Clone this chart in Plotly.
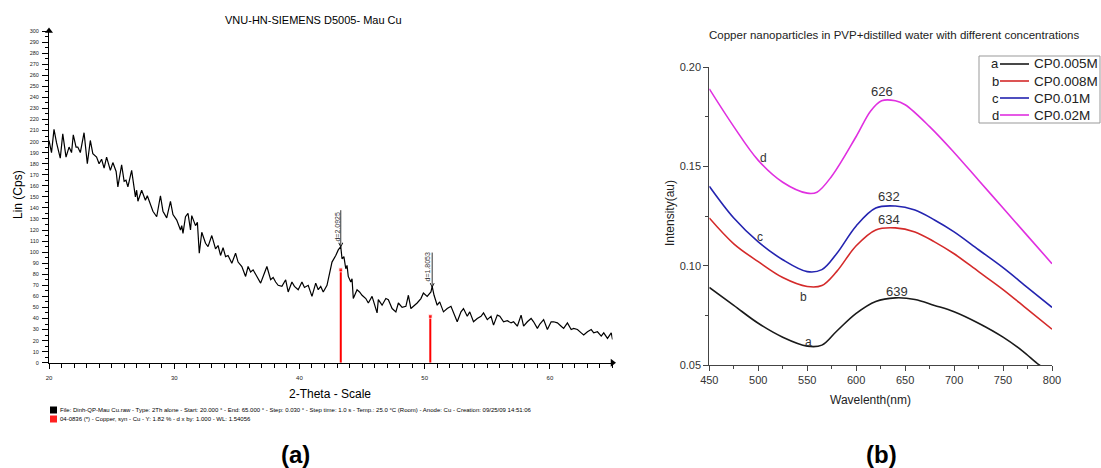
import plotly.graph_objects as go

W, H = 1101, 468
def px(x): return x / W
def py(y): return 1 - y / H

# ---------------- Panel (a): XRD data ----------------
theta = [20.0,20.2,20.4,20.6,20.9,21.1,21.36,21.6,21.8,21.94,22.16,22.3,22.5,22.8,23.06,23.3,23.5,23.8,24.0,24.2,
         24.4,24.6,24.9,25.1,25.36,25.5,25.8,26.0,26.15,26.3,26.6,26.8,26.9,27.0,27.1,27.4,27.7,27.85,28.1,28.3,
         28.6,28.9,29.1,29.4,29.7,29.9,30.2,30.5,30.6,30.7,30.9,31.1,31.3,31.4,31.7,31.85,32.0,32.2,32.5,32.7,
         33.0,33.3,33.5,33.7,33.9,34.1,34.3,34.6,34.9,35.1,35.4,35.7,35.9,36.1,36.3,36.6,36.9,37.1,37.4,37.7,
         37.9,38.1,38.3,38.6,38.9,39.1,39.4,39.6,39.9,40.2,40.4,40.7,41.0,41.3,41.5,41.7,41.9,42.2,42.3,42.6,
         42.9,43.1,43.3,43.4,43.55,43.7,43.8,43.9,44.1,44.2,44.3,44.6,44.8,45.0,45.3,45.5,45.8,46.2,46.3,46.6,
         46.9,47.1,47.4,47.7,47.9,48.2,48.5,48.7,48.9,49.1,49.4,49.7,49.9,50.2,50.5,50.6,50.75,51.0,51.2,51.5,
         51.8,52.1,52.3,52.6,52.9,53.1,53.4,53.6,53.9,54.2,54.5,54.7,55.0,55.3,55.5,55.8,56.0,56.3,56.6,56.9,
         57.1,57.4,57.7,57.9,58.2,58.5,58.7,59.0,59.2,59.5,59.8,60.1,60.3,60.6,60.9,61.1,61.4,61.7,61.9,62.2,
         62.5,62.7,63.0,63.3,63.5,63.8,64.1,64.3,64.6,64.9,65.0]
cps = [201,190,211,199,185,207,186,195,190,206,195,195,190,208,180,201,189,186,180,184,
       176,186,174,181,173,159,179,164,165,159,174,156,150,156,146,156,147,151,143,137,
       132,151,137,131,146,134,129,120,124,117,132,135,120,133,124,127,99,118,108,105,
       115,103,106,97,104,96,97,90,99,91,87,78,87,82,84,78,72,78,87,75,
       77,73,70,69,75,64,73,69,66,73,68,70,60,72,66,69,64,70,75,91,
       97,102,105,94,96,85,88,78,73,76,58,66,64,61,58,54,60,45,57,52,
       58,57,49,46,54,50,51,61,49,51,54,58,63,60,64,69,61,52,55,46,
       49,51,45,37,46,49,42,46,37,40,42,45,39,42,34,43,42,37,38,36,
       37,33,43,33,37,40,37,31,35,39,30,37,37,36,33,31,36,30,31,30,
       27,25,28,30,27,28,24,27,22,27,21]

stick_theta = [43.3, 50.45]
stick_height = [84, 42]

peak_theta = [43.3, 50.6]
peak_cps = [104, 67.5]
peak_labels = ["d=2.0925", "d=1.8053"]

# ---------------- Panel (b): UV-Vis data ----------------
wl_a = [450,475,500,525,550,565,580,600,620,640,660,680,700,725,750,770,787,800]
int_a = [0.089,0.080,0.071,0.064,0.0595,0.060,0.067,0.076,0.082,0.0838,0.083,0.080,0.0768,0.071,0.064,0.057,0.050,0.046]
wl_b = [450,475,500,525,550,565,580,600,620,640,660,680,700,725,750,775,800]
int_b = [0.124,0.111,0.102,0.094,0.0895,0.090,0.097,0.110,0.118,0.119,0.117,0.112,0.106,0.097,0.088,0.078,0.068]
wl_c = [450,475,500,525,550,565,580,600,620,640,660,680,700,725,750,775,800]
int_c = [0.140,0.124,0.112,0.103,0.097,0.098,0.106,0.120,0.129,0.130,0.128,0.123,0.117,0.108,0.099,0.089,0.079]
wl_d = [450,475,500,525,550,560,575,600,615,626,640,650,675,700,725,750,775,800]
int_d = [0.189,0.170,0.153,0.142,0.1365,0.137,0.145,0.165,0.178,0.183,0.183,0.181,0.170,0.157,0.143,0.129,0.115,0.101]

series_names = ["CP0.005M", "CP0.008M", "CP0.01M", "CP0.02M"]
series_letters = ["a", "b", "c", "d"]
series_colors = ["#1a1a1a", "#d42a2a", "#2424b0", "#e030e0"]

fig = go.Figure()

# XRD pattern
fig.add_trace(go.Scatter(x=theta, y=cps, mode="lines", line=dict(color="black", width=1.2),
                         xaxis="x", yaxis="y", showlegend=False))
for t, h in zip(stick_theta, stick_height):
    fig.add_trace(go.Scatter(x=[t, t], y=[0, h], mode="lines+markers",
                             line=dict(color="#ff0000", width=2),
                             marker=dict(size=[0, 4], color="#ff0000", symbol="square"),
                             xaxis="x", yaxis="y", showlegend=False, cliponaxis=False))
# axis arrowheads
fig.add_trace(go.Scatter(x=[20], y=[300], mode="markers", marker=dict(symbol="triangle-up", size=7, color="black"),
                         xaxis="x", yaxis="y", showlegend=False, cliponaxis=False))
fig.add_trace(go.Scatter(x=[65], y=[0], mode="markers", marker=dict(symbol="triangle-right", size=7, color="black"),
                         xaxis="x", yaxis="y", showlegend=False, cliponaxis=False))

# UV-Vis spectra
for wl, iv, nm, col in zip([wl_a, wl_b, wl_c, wl_d], [int_a, int_b, int_c, int_d], series_names, series_colors):
    fig.add_trace(go.Scatter(x=wl, y=iv, mode="lines", line=dict(color=col, width=1.6, shape="spline", smoothing=1.0),
                             name=nm, xaxis="x2", yaxis="y2", showlegend=False))

F = "Arial, Liberation Sans, sans-serif"
ann = []
# d-spacing arrows and texts
for t, c, lab, ay, tx, ty in zip(peak_theta, peak_cps, peak_labels, [-39, -37], [43.04, 50.22], [122.7, 86.5]):
    ann.append(dict(x=t, y=c, xref="x", yref="y", ax=0, ay=ay, text="", showarrow=True,
                    arrowhead=5, arrowsize=1, arrowwidth=0.8, arrowcolor="black"))
    ann.append(dict(x=tx, y=ty, xref="x", yref="y", text=lab, textangle=-90, showarrow=False,
                    font=dict(size=7, color="#333", family=F)))

def txt(x, y, s, size, color="black", angle=0, xanchor="center", bold=False):
    if bold:
        s = "<b>" + s + "</b>"
    ann.append(dict(x=px(x), y=py(y), xref="paper", yref="paper", text=s, showarrow=False,
                    textangle=angle, xanchor=xanchor, yanchor="middle",
                    font=dict(size=size, color=color, family=F)))

# Panel (a) texts
txt(313, 20, "VNU-HN-SIEMENS D5005- Mau Cu", 11)
txt(18, 195, "Lin (Cps)", 12, angle=-90)
txt(330, 394, "2-Theta - Scale", 12)
txt(58, 410, "File: Dinh-QP-Mau Cu.raw - Type: 2Th alone - Start: 20.000 ° - End: 65.000 ° - Step: 0.030 ° - Step time: 1.0 s - Temp.: 25.0 °C (Room) - Anode: Cu - Creation: 09/25/09 14:51:06",
    6, xanchor="left")
txt(58, 419, "04-0836 (*) - Copper, syn - Cu - Y: 1.82 % - d x by: 1.000 - WL: 1.54056", 6, xanchor="left")
txt(295, 454, "(a)", 24, bold=True)

# Panel (b) texts
txt(894, 35, "Copper nanoparticles in PVP+distilled water with different concentrations", 11.5, color="#222")
txt(670, 213, "Intensity(au)", 12, color="#222", angle=-90)
txt(870, 400, "Wavelenth(nm)", 12, color="#222")
txt(881, 454, "(b)", 24, bold=True)
for s, x, y in zip(["626", "632", "634", "639"], [882, 889, 889, 897], [92, 196, 219, 291]):
    txt(x, y, s, 13, color="#333")
for s, x, y in zip(["d", "c", "b", "a"], [763, 760, 803, 808], [158, 237, 297, 342]):
    txt(x, y, s, 12, color="#333")

shapes = []
# footer icons
shapes.append(dict(type="rect", xref="paper", yref="paper", x0=px(50), x1=px(57), y0=py(413.5), y1=py(406.5),
                   fillcolor="black", line=dict(width=0)))
shapes.append(dict(type="rect", xref="paper", yref="paper", x0=px(50), x1=px(57), y0=py(422.5), y1=py(415.5),
                   fillcolor="#ff2020", line=dict(width=0)))
# legend box for panel (b)
shapes.append(dict(type="rect", xref="paper", yref="paper", x0=px(979), x1=px(1100), y0=py(123), y1=py(56),
                   fillcolor="white", line=dict(color="#999", width=1)))
for i, (nm, let, col) in enumerate(zip(series_names, series_letters, series_colors)):
    yy = 64 + i * 17
    shapes.append(dict(type="line", xref="paper", yref="paper", x0=px(1000), x1=px(1029), y0=py(yy), y1=py(yy),
                       line=dict(color=col, width=1.6)))
    txt(995, yy, let, 13, color="#222")
    txt(1032, yy, nm, 13.5, color="#222", xanchor="left")

fig.update_layout(
    width=W, height=H, autosize=False,
    margin=dict(l=0, r=0, t=0, b=0, autoexpand=False),
    paper_bgcolor="white", plot_bgcolor="white",
    showlegend=False,
    xaxis=dict(domain=[px(49), px(612.5)], range=[20, 65], anchor="y",
               showline=True, linecolor="black", linewidth=1, showgrid=False, zeroline=False,
               ticks="outside", ticklen=5, tickcolor="black", tick0=20, dtick=10,
               ticklabelstandoff=4,
               tickfont=dict(size=6, family=F, color="#222"),
               minor=dict(ticks="outside", ticklen=4, dtick=1, tickcolor="black", showgrid=False)),
    yaxis=dict(domain=[py(362.7), py(31)], range=[0, 300], anchor="x",
               showline=True, linecolor="black", linewidth=1, showgrid=False, zeroline=False,
               ticks="outside", ticklen=6, tickcolor="black", tick0=0, dtick=10,
               ticklabelstandoff=2,
               tickfont=dict(size=5.5, family=F, color="#222"),
               minor=dict(ticks="outside", ticklen=3, dtick=5, tickcolor="black", showgrid=False)),
    xaxis2=dict(domain=[px(709.3), px(1052)], range=[450, 800], anchor="y2",
                showline=True, linecolor="#444", linewidth=1, showgrid=False, zeroline=False,
                ticks="outside", ticklen=5, tickcolor="#444", tick0=450, dtick=50,
                tickfont=dict(size=11, family=F, color="#333"),
                minor=dict(ticks="outside", ticklen=3, dtick=25, tickcolor="#444", showgrid=False)),
    yaxis2=dict(domain=[py(365), py(67)], range=[0.05, 0.20], anchor="x2",
                showline=True, linecolor="#444", linewidth=1, showgrid=False, zeroline=False,
                ticks="outside", ticklen=5, tickcolor="#444", tick0=0.05, dtick=0.05, tickformat=".2f",
                tickfont=dict(size=11, family=F, color="#333"),
                minor=dict(ticks="outside", ticklen=3, dtick=0.025, tickcolor="#444", showgrid=False)),
    annotations=ann,
    shapes=shapes,
)

fig.write_html("out.html")
